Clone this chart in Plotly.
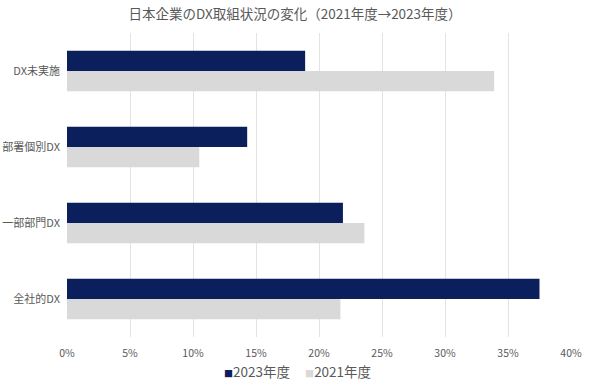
import plotly.graph_objects as go

categories = ["DX未実施", "部署個別DX", "一部部門DX", "全社的DX"]
values_2023 = [0.189, 0.143, 0.219, 0.375]
values_2021 = [0.339, 0.105, 0.236, 0.217]
series_names = ["2023年度", "2021年度"]
series_colors = ["#0b1f5c", "#d9d9d9"]
title_text = "日本企業のDX取組状況の変化（2021年度→2023年度）"

FONT = "Noto Sans CJK JP, Noto Sans, sans-serif"
W, H = 590, 384
ML, MR, MT, MB = 67, 19, 33, 47

fig = go.Figure()
for name, vals, col in zip(series_names, [values_2023, values_2021], series_colors):
    fig.add_trace(go.Bar(y=categories, x=vals, name=name, orientation="h",
                         marker=dict(color=col, line=dict(width=0)), showlegend=False))

# compact legend drawn as text below the axis
legend_text = "&nbsp;&nbsp;&nbsp;&nbsp;&nbsp;".join(
    f"<span style='color:{c};font-size:9px'>■</span>{n}" for n, c in zip(series_names, series_colors)
)
fig.add_annotation(text=legend_text, xref="paper", yref="paper", x=0.458, y=-0.112,
                   xanchor="center", yanchor="middle", showarrow=False,
                   font=dict(size=13.5, color="#595959", family=FONT))

fig.update_layout(
    width=W, height=H,
    margin=dict(l=ML, r=MR, t=MT, b=MB),
    paper_bgcolor="white", plot_bgcolor="white",
    font=dict(family=FONT, color="#595959", size=10),
    title=dict(text=title_text, x=0.5, xanchor="center", xref="container",
               y=1 - 14 / H, yanchor="middle",
               font=dict(size=13.5, color="#595959", family=FONT)),
    barmode="group", bargap=0.47, bargroupgap=0,
    showlegend=False,
)
fig.update_xaxes(range=[0, 0.4], dtick=0.05, tickformat=".0%", showgrid=True,
                 gridcolor="#e3e3e3", gridwidth=1, zeroline=False, showline=False,
                 ticks="", ticklabelstandoff=8,
                 tickfont=dict(size=10.5, color="#595959"), automargin=False)
fig.update_yaxes(autorange="reversed", showgrid=False, showline=False, ticks="",
                 ticklabelstandoff=6, tickfont=dict(size=11, color="#595959"), automargin=False)

fig.write_html("out.html", config={"displayModeBar": False},
               post_script="document.body.style.margin='0';document.body.style.overflow='hidden';")
